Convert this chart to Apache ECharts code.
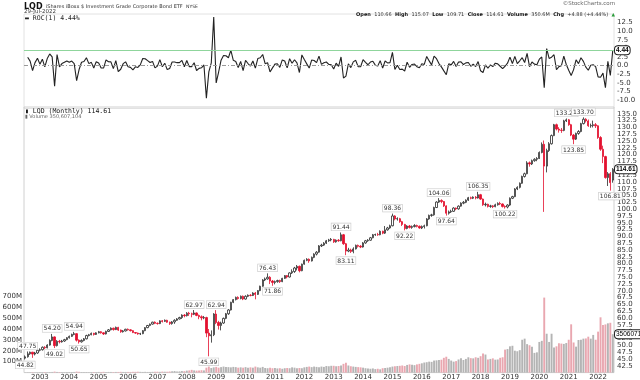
<!DOCTYPE html>
<html><head><meta charset="utf-8">
<script src="https://cdn.jsdelivr.net/npm/echarts@6/dist/echarts.min.js"></script>
<style>html,body{margin:0;padding:0;background:#fff}#c{width:640px;height:380px}</style>
</head><body><div id="c"></div>
<script>
const startYear = 2002, startMonth = 7;
const closes = [
45.8,46.9,47.5,46.8,47.2,48.2,
48.4,49.3,49.1,50.1,51.8,53.1,49.9,51.5,51.3,51.6,52.1,52.8,
53.3,54.0,54.3,51.9,51.3,51.8,52.4,53.6,53.9,54.4,54.0,54.6,
55.0,54.6,54.2,55.1,55.7,56.3,55.8,56.6,55.6,55.0,55.3,55.9,
55.7,55.4,54.7,54.5,54.2,54.3,55.4,56.5,57.3,57.8,58.5,58.1,
58.0,59.0,58.8,59.2,58.5,58.0,58.6,59.2,59.7,60.2,61.1,60.9,
61.8,61.6,61.4,61.9,61.0,60.5,60.1,60.2,54.5,53.5,53.9,61.5,
58.4,57.3,58.2,59.9,61.6,63.0,65.8,66.8,67.6,67.2,68.0,67.0,
68.0,68.4,68.3,69.2,68.7,70.1,71.7,74.0,74.4,75.0,73.6,73.1,
73.4,73.8,73.4,74.6,75.6,75.1,76.6,77.1,78.4,79.0,77.4,79.8,
81.2,81.6,81.0,82.3,83.5,84.2,86.5,86.8,87.5,88.4,88.7,88.9,
88.0,88.6,88.4,90.6,87.3,84.6,85.0,84.5,85.4,86.7,86.4,86.1,
87.6,88.4,88.6,89.5,90.6,90.7,90.6,91.9,91.2,92.4,93.1,93.9,
97.5,96.4,96.5,95.4,94.4,92.9,93.8,93.3,93.6,94.0,93.7,93.1,
93.6,93.9,96.4,97.7,97.9,100.6,102.6,103.2,102.8,101.2,98.5,99.0,
99.2,100.4,100.1,101.1,102.2,102.5,103.3,104.2,104.0,104.4,104.1,105.3,
103.7,101.6,101.8,101.0,101.2,100.9,101.6,102.1,101.9,101.0,100.8,101.5,
104.0,104.6,107.4,108.0,109.5,112.0,113.0,117.0,116.6,117.8,118.3,118.6,
120.8,123.8,115.8,121.5,124.0,127.0,131.0,129.4,129.0,128.9,132.4,132.8,
131.0,127.2,125.7,127.8,128.5,131.4,133.0,132.4,130.6,130.7,131.0,130.6,
126.3,122.0,119.3,111.6,113.0,109.74,114.61];
const opens = [
45.3,45.8,46.9,47.5,46.8,47.2,
48.2,48.4,49.3,49.1,50.1,51.8,53.1,49.9,51.5,51.3,51.6,52.1,
52.8,53.3,54.0,54.3,51.9,51.3,51.8,52.4,53.6,53.9,54.4,54.0,
54.6,55.0,54.6,54.2,55.1,55.7,56.3,55.8,56.6,55.6,55.0,55.3,
55.9,55.7,55.4,54.7,54.5,54.2,54.3,55.4,56.5,57.3,57.8,58.5,
58.1,58.0,59.0,58.8,59.2,58.5,58.0,58.6,59.2,59.7,60.2,61.1,
60.9,61.8,61.6,61.4,61.9,61.0,60.5,60.1,60.2,54.5,53.5,53.9,
61.5,58.4,57.3,58.2,59.9,61.6,63.0,65.8,66.8,67.6,67.2,68.0,
67.0,68.0,68.4,68.3,69.2,68.7,70.1,71.7,74.0,74.4,75.0,73.6,
73.1,73.4,73.8,73.4,74.6,75.6,75.1,76.6,77.1,78.4,79.0,77.4,
79.8,81.2,81.6,81.0,82.3,83.5,84.2,86.5,86.8,87.5,88.4,88.7,
88.9,88.0,88.6,88.4,90.6,87.3,84.6,85.0,84.5,85.4,86.7,86.4,
86.1,87.6,88.4,88.6,89.5,90.6,90.7,90.6,91.9,91.2,92.4,93.1,
93.9,97.5,96.4,96.5,95.4,94.4,92.9,93.8,93.3,93.6,94.0,93.7,
93.1,93.6,93.9,96.4,97.7,97.9,100.6,102.6,103.2,102.8,101.2,98.5,
99.0,99.2,100.4,100.1,101.1,102.2,102.5,103.3,104.2,104.0,104.4,104.1,
105.3,103.7,101.6,101.8,101.0,101.2,100.9,101.6,102.1,101.9,101.0,100.8,
101.5,104.0,104.6,107.4,108.0,109.5,112.0,113.0,117.0,116.6,117.8,118.3,
118.6,120.8,123.8,115.8,121.5,124.0,127.0,131.0,129.4,129.0,128.9,132.4,
132.8,131.0,127.2,125.7,127.8,128.5,131.4,133.0,132.4,130.6,130.7,131.0,
130.6,126.3,122.0,119.3,111.6,113.0,110.66];
const highs = [
46.3,47.75,47.7,47.6,47.6,48.5,
48.9,49.6,49.7,50.4,52.2,54.2,53.3,51.9,52.0,52.0,52.4,53.0,
53.6,54.3,54.94,54.5,52.2,52.2,52.7,53.9,54.2,54.7,54.6,54.8,
55.3,55.2,54.8,55.4,56.0,56.6,56.5,56.9,56.8,55.8,55.6,56.1,
56.2,55.9,55.6,54.9,54.7,54.6,55.6,56.7,57.5,58.0,58.7,58.8,
58.4,59.2,59.3,59.5,59.4,58.7,58.9,59.6,60.0,60.5,61.4,61.5,
62.2,62.3,62.0,62.97,62.1,61.3,61.0,60.8,60.5,56.0,55.5,61.8,
62.94,59.0,58.7,60.2,61.9,63.3,66.0,67.0,67.9,68.0,68.3,68.3,
68.4,68.7,68.8,69.5,69.6,70.3,71.9,74.3,74.9,76.43,75.4,74.0,
73.8,74.1,74.1,74.8,75.8,75.8,76.8,77.9,78.8,79.5,79.3,80.0,
81.5,82.0,81.9,82.6,83.8,84.6,86.8,87.3,87.9,88.7,89.1,89.4,
89.1,88.9,89.0,91.44,90.9,87.6,85.8,85.5,86.0,87.0,87.0,86.8,
87.9,88.7,89.0,89.8,90.9,91.0,91.3,92.2,92.1,93.8,93.5,94.3,
98.36,97.8,97.0,96.8,95.7,94.6,94.1,94.2,94.0,94.5,94.3,94.0,
94.0,94.3,96.7,98.0,98.3,100.9,102.9,104.06,103.6,103.0,101.4,99.5,
99.8,100.7,100.6,101.4,102.5,103.0,103.6,104.5,104.6,104.7,104.8,106.35,
105.6,103.9,102.4,102.0,101.6,101.5,102.0,102.5,102.7,102.1,101.4,101.8,
104.3,104.9,107.7,108.4,109.8,112.3,113.4,117.6,117.5,118.2,118.7,119.1,
121.2,124.5,125.2,122.2,124.6,127.4,131.3,131.4,130.1,129.8,132.8,133.29,
133.1,131.3,127.6,128.1,129.0,131.7,133.70,133.4,132.9,131.4,132.5,131.6,
130.8,126.8,123.3,119.6,113.6,113.6,115.07];
const lows = [
44.82,45.5,46.5,45.4,46.3,46.9,
47.8,48.1,48.6,48.9,49.9,51.5,49.02,49.6,50.7,51.0,51.3,51.9,
52.5,53.1,53.7,51.4,50.65,51.0,51.5,52.2,53.3,53.7,53.6,53.8,
54.4,54.3,53.8,54.0,54.9,55.5,55.4,55.6,55.3,54.6,54.7,55.1,
55.4,55.1,54.5,54.2,53.9,53.8,54.1,55.2,56.3,57.0,57.6,57.8,
57.6,57.8,58.4,58.6,58.3,57.5,57.6,57.9,59.0,59.5,59.7,60.3,
60.6,60.8,60.3,61.1,60.7,59.6,59.2,59.6,53.0,45.99,51.0,53.4,
57.8,55.8,55.5,57.9,59.6,61.2,62.8,65.5,66.5,66.8,66.9,66.6,
66.8,67.7,68.0,68.1,66.9,68.5,69.9,71.5,73.6,74.1,72.5,71.86,
72.4,73.0,72.9,73.2,74.4,74.6,74.9,76.2,76.6,77.5,76.8,77.2,
79.6,80.9,80.3,80.8,82.0,83.0,84.0,86.1,86.5,87.2,88.0,88.2,
87.6,87.7,88.0,88.2,86.9,83.11,84.2,83.9,83.8,85.2,85.9,85.7,
85.9,87.3,88.0,88.4,89.3,90.2,90.2,90.4,90.8,90.9,92.1,92.8,
93.7,95.9,95.8,95.0,93.8,92.22,92.6,92.9,92.8,93.3,93.3,92.8,
92.7,92.9,93.7,96.1,97.2,97.6,100.4,102.3,102.2,100.8,97.64,98.0,
98.6,99.0,99.6,99.8,100.9,101.8,102.2,103.0,103.6,103.7,103.6,103.9,
103.4,101.2,101.0,100.6,100.5,100.4,100.7,101.3,101.5,100.6,100.22,100.3,
101.2,103.7,104.4,107.0,107.6,109.3,111.6,112.8,115.6,116.2,117.4,117.6,
118.4,120.5,99.0,113.5,121.0,123.7,126.8,128.9,128.1,128.0,128.6,132.0,
130.6,126.8,123.85,125.4,127.3,128.2,131.1,131.8,130.2,129.9,130.0,129.8,
125.8,121.4,116.9,111.2,108.5,106.81,109.71];
// volume in millions of shares
const volumes = [
2,3,3,4,3,3,
4,4,5,4,5,6,9,6,5,4,4,5,
5,5,6,9,7,5,5,5,4,5,5,5,
6,5,7,6,6,6,5,6,6,7,6,6,
6,6,7,7,8,7,6,7,6,6,7,7,
8,7,9,8,8,10,12,14,10,11,14,13,
18,20,25,20,18,20,22,20,45,55,42,48,
52,45,50,55,52,50,48,52,50,45,48,45,
50,45,48,45,55,48,45,52,42,40,45,40,
42,38,40,35,40,42,40,48,45,40,42,40,
48,52,55,50,55,52,50,55,52,60,58,62,
62,58,60,65,80,90,65,58,55,52,50,48,
45,40,38,35,38,32,35,30,40,42,45,50,
55,58,60,62,65,60,70,75,72,68,75,80,
85,92,95,100,98,110,112,115,118,135,145,125,
110,100,105,120,130,115,125,140,132,130,140,135,
150,175,165,120,125,130,118,120,135,140,210,215,
240,245,200,195,205,300,310,260,250,235,180,185,
280,290,685,355,280,355,230,240,268,265,262,270,
300,441,275,237,298,300,310,312,328,310,344,300,
374,505,435,440,450,455,350.6];
const highLabelIdx = [1,11,20,69,78,99,129,150,169,185,221,228];
const lowLabelIdx = [0,12,22,75,101,131,155,172,196,224,239];
const volumeTag = '350607104';
const volumeLegend = 'Volume 350,607,104';

const months = [];
for (let k = 0; k < closes.length; k++) {
  const m = startMonth - 1 + k;
  months.push((startYear + Math.floor(m / 12)) + '-' + String(m % 12 + 1).padStart(2, '0'));
}
const roc = closes.map((c, i) => i === 0 ? '-' : +((c / closes[i - 1] - 1) * 100).toFixed(2));
const lastRoc = roc[roc.length - 1];
const lastClose = closes[closes.length - 1];
const candles = closes.map((c, i) => [opens[i], c, lows[i], highs[i]]);
const UP_FILL = '#ffffff', UP_LINE = '#2a2a2a', DN = '#e3102f';
const volData = volumes.map((v, i) => ({value: v, itemStyle: {color: closes[i] < opens[i] ? '#e9a7b0' : '#b4b4b4'}}));

const FONT = 'DejaVu Sans';
const tagStyle = {show: true, position: 'end', distance: 1, fontSize: 6.5, fontWeight: 'bold', color: '#000', fontFamily: 'Liberation Sans',
  backgroundColor: '#fff', borderColor: '#222', borderWidth: 1, borderRadius: 3, padding: [1, 1, 0, 1]};
const boxLabel = {show: true, fontSize: 6, color: '#333', fontFamily: FONT, backgroundColor: '#fff',
  borderColor: '#c8c8c8', borderWidth: 0.6, padding: [1, 1, 0, 1], distance: 2};
const hiddenLine = {color: 'rgba(0,0,0,0)', width: 0.01, type: 'solid'};

const chart = echarts.init(document.getElementById('c'), null, {renderer: 'canvas'});
chart.setOption({
  animation: false,
  textStyle: {fontFamily: FONT},
  grid: [
    {left: 24, right: 26, top: 14, height: 94.5, show: true, borderColor: '#e2e2e2', borderWidth: 1, outerBoundsMode: 'none'},
    {left: 24, right: 26, top: 107, height: 265.6, show: true, borderColor: '#d0d0d0', borderWidth: 1, outerBoundsMode: 'none'}
  ],
  xAxis: [
    {type: 'category', gridIndex: 0, data: months, boundaryGap: true, axisLine: {show: false}, axisTick: {show: false}, axisLabel: {show: false}, splitLine: {show: false}},
    {type: 'category', gridIndex: 1, data: months, boundaryGap: true, axisLine: {show: false}, axisTick: {show: false},
      axisLabel: {interval: (i, v) => v.endsWith('-01'), formatter: v => v.slice(0, 4), fontSize: 7, color: '#333', margin: 1}, splitLine: {show: false}}
  ],
  yAxis: [
    {type: 'value', gridIndex: 0, position: 'right', min: -12.5, max: 15, interval: 2.5, splitLine: {show: false}, axisLine: {show: false}, axisTick: {show: false},
      axisLabel: {fontSize: 7, color: '#333', margin: 3, formatter: v => (v <= -12.5 || v >= 15) ? '' : v.toFixed(1)}},
    {type: 'value', gridIndex: 1, position: 'right', min: 40, max: 137.5, interval: 2.5, splitLine: {show: false}, axisLine: {show: false}, axisTick: {show: false},
      axisLabel: {fontSize: 7, color: '#333', margin: 3, formatter: v => (v <= 40 || v >= 137.5) ? '' : v.toFixed(1)}},
    {type: 'value', gridIndex: 1, position: 'left', min: 0, max: 2425.6, interval: 100, splitLine: {show: false}, axisLine: {show: false}, axisTick: {show: false},
      axisLabel: {fontSize: 7, color: '#333', margin: 2, formatter: v => (v > 0 && v <= 700) ? v + 'M' : ''}}
  ],
  series: [
    {type: 'line', xAxisIndex: 0, yAxisIndex: 0, data: roc, symbol: 'none', lineStyle: {color: '#222', width: 1.1}, z: 3,
      markLine: {silent: true, symbol: 'none', data: [
        {yAxis: 0, lineStyle: {color: '#9a9a9a', type: [4, 2, 1, 2], width: 1}, label: {show: false}},
        {yAxis: lastRoc, lineStyle: {color: '#8fd59c', type: 'solid', width: 1.2}, label: Object.assign({}, tagStyle, {formatter: lastRoc.toFixed(2)})}
      ]}},
    {type: 'bar', xAxisIndex: 1, yAxisIndex: 2, data: volData, barWidth: '78%', z: 1,
      markLine: {silent: true, symbol: 'none', data: [
        {yAxis: volumes[volumes.length - 1], lineStyle: hiddenLine, label: Object.assign({}, tagStyle, {fontWeight: 'normal', formatter: volumeTag})}
      ]}},
    {type: 'candlestick', xAxisIndex: 1, yAxisIndex: 1, data: candles, barWidth: 1.8, z: 3,
      itemStyle: {color: UP_FILL, color0: DN, borderColor: UP_LINE, borderColor0: DN, borderWidth: 0.8},
      markPoint: {silent: true, symbol: 'circle', symbolSize: 0, data:
        highLabelIdx.map(i => ({coord: [i, highs[i]], value: highs[i].toFixed(2), label: Object.assign({}, boxLabel, {position: 'top'})}))
        .concat(lowLabelIdx.map(i => ({coord: [i, lows[i]], value: lows[i].toFixed(2), label: Object.assign({}, boxLabel, {position: 'bottom'})})))},
      markLine: {silent: true, symbol: 'none', data: [
        {yAxis: lastClose, lineStyle: hiddenLine, label: Object.assign({}, tagStyle, {formatter: lastClose.toFixed(2)})}
      ]}}
  ],
  graphic: [
    {type: 'text', left: 24, top: 1, style: {text: '{a|LQD} {b|iShares iBoxx $ Investment Grade Corporate Bond ETF} {c|NYSE}',
      rich: {a: {fontSize: 8, fontWeight: 'bold', fill: '#111', fontFamily: FONT}, b: {fontSize: 5, fill: '#333', fontFamily: FONT}, c: {fontSize: 4.5, fill: '#333', fontFamily: FONT}}}},
    {type: 'text', left: 24, top: 8.5, style: {text: '29-Jul-2022', fontSize: 5.5, fill: '#333', fontFamily: FONT}},
    {type: 'text', right: 25, top: 1, style: {text: '©StockCharts.com', fontSize: 5.5, fill: '#666', fontFamily: FONT}},
    {type: 'text', right: 25, top: 8.5, style: {
      text: '{l|Open} {v|110.66} {l|High} {v|115.07} {l|Low} {v|109.71} {l|Close} {v|114.61} {l|Volume} {v|350.6M} {l|Chg} {v|+4.88 (+4.44%)} {g|▲}',
      rich: {l: {fontSize: 5, fontWeight: 'bold', fill: '#111', fontFamily: FONT}, v: {fontSize: 5, fill: '#333', fontFamily: FONT}, g: {fontSize: 4.5, fill: '#2a9d3a', fontFamily: FONT}}}},
    {type: 'text', left: 25, top: 14.5, style: {text: '▬ ROC(1) ' + lastRoc.toFixed(2) + '%', fontSize: 6.5, fill: '#222', fontFamily: 'DejaVu Sans Mono'}},
    {type: 'text', left: 25, top: 107.5, style: {text: '▮ LQD (Monthly) ' + lastClose.toFixed(2), fontSize: 6.5, fill: '#111', fontFamily: 'DejaVu Sans Mono'}},
    {type: 'text', left: 25, top: 114, style: {text: '▮ ' + volumeLegend, fontSize: 5, fill: '#666', fontFamily: FONT}}
  ]
});
</script></body></html>
